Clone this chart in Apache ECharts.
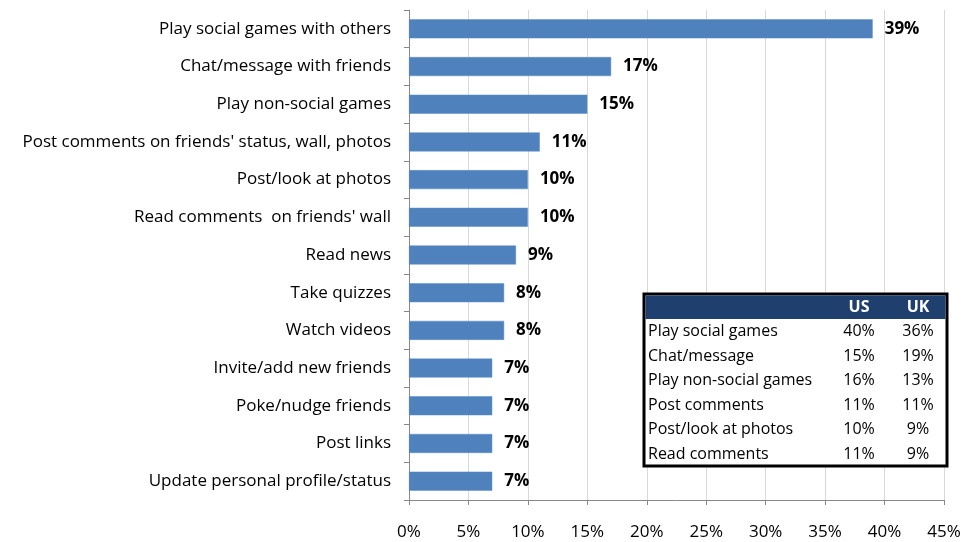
<!DOCTYPE html>
<html>
<head>
<meta charset="utf-8">
<script src="https://cdn.jsdelivr.net/npm/echarts@6/dist/echarts.min.js"></script>
<style>
  html, body { margin: 0; padding: 0; background: #fff; }
  #chart { width: 976px; height: 542px; }
</style>
</head>
<body>
<div id="chart"></div>
<script>
// Activities, top to bottom
const categories = [
  "Play social games with others",
  "Chat/message with friends",
  "Play non-social games",
  "Post comments on friends' status, wall, photos",
  "Post/look at photos",
  "Read comments  on friends' wall",
  "Read news",
  "Take quizzes",
  "Watch videos",
  "Invite/add new friends",
  "Poke/nudge friends",
  "Post links",
  "Update personal profile/status"
];
const values = [39, 17, 15, 11, 10, 10, 9, 8, 8, 7, 7, 7, 7];
const xTicks = [0, 5, 10, 15, 20, 25, 30, 35, 40, 45];

// US vs UK breakdown table
const tableHeader = ["", "US", "UK"];
const tableRows = [
  "Play social games",
  "Chat/message",
  "Play non-social games",
  "Post comments",
  "Post/look at photos",
  "Read comments"
];
const usValues = [40, 15, 16, 11, 10, 11];
const ukValues = [36, 19, 13, 11, 9, 9];

const FONT = "'Open Sans', 'Noto Sans', sans-serif";

// Table geometry
const tb = { x: 644, y: 294, w: 303, h: 172, head: 25, colUS: 859, colUK: 918 };
const rowH = (tb.h - tb.head) / tableRows.length;
const tableEls = [];
tableEls.push({ type: 'rect', shape: { x: tb.x, y: tb.y, width: tb.w, height: tb.h },
  style: { fill: '#fff', stroke: '#000', lineWidth: 3 }, z: 100 });
tableEls.push({ type: 'rect', shape: { x: tb.x + 1.5, y: tb.y + 1.5, width: tb.w - 3, height: tb.head - 1.5 },
  style: { fill: '#1F3F6F' }, z: 101 });
tableEls.push({ type: 'text', x: tb.colUS, y: tb.y + tb.head / 2 + 1,
  style: { text: tableHeader[1], fill: '#fff', font: 'bold 16px ' + FONT, align: 'center', verticalAlign: 'middle' }, z: 102 });
tableEls.push({ type: 'text', x: tb.colUK, y: tb.y + tb.head / 2 + 1,
  style: { text: tableHeader[2], fill: '#fff', font: 'bold 16px ' + FONT, align: 'center', verticalAlign: 'middle' }, z: 102 });
tableRows.forEach((name, i) => {
  const cy = tb.y + tb.head + rowH * (i + 0.5) + 0.5;
  tableEls.push({ type: 'text', x: tb.x + 4, y: cy,
    style: { text: name, fill: '#000', font: '16px ' + FONT, align: 'left', verticalAlign: 'middle' }, z: 102 });
  tableEls.push({ type: 'text', x: tb.colUS, y: cy,
    style: { text: usValues[i] + '%', fill: '#000', font: '16px ' + FONT, align: 'center', verticalAlign: 'middle' }, z: 102 });
  tableEls.push({ type: 'text', x: tb.colUK, y: cy,
    style: { text: ukValues[i] + '%', fill: '#000', font: '16px ' + FONT, align: 'center', verticalAlign: 'middle' }, z: 102 });
});

const chart = echarts.init(document.getElementById('chart'), null, { renderer: 'canvas' });
chart.setOption({
  animation: false,
  backgroundColor: '#fff',
  textStyle: { fontFamily: FONT },
  grid: { left: 409, right: 32, top: 10, bottom: 42, containLabel: false },
  xAxis: {
    type: 'value',
    min: xTicks[0],
    max: xTicks[xTicks.length - 1],
    interval: 5,
    axisLine: { show: true, lineStyle: { color: '#888', width: 1 } },
    axisTick: { show: true, length: 5, lineStyle: { color: '#888' } },
    axisLabel: { formatter: v => v + '%', color: '#000', fontSize: 17, margin: 24, fontFamily: FONT },
    splitLine: { show: true, lineStyle: { color: '#d9d9d9', width: 1 } }
  },
  yAxis: {
    type: 'category',
    data: categories,
    inverse: true,
    axisLine: { show: true, lineStyle: { color: '#888', width: 1 } },
    axisTick: { show: true, length: 5, lineStyle: { color: '#888' } },
    axisLabel: { color: '#000', fontSize: 17, margin: 18, fontFamily: FONT },
    splitLine: { show: false }
  },
  series: [{
    type: 'bar',
    data: values,
    barWidth: 19,
    itemStyle: { color: '#4F81BD', borderColor: '#5B8CC8', borderWidth: 0.5 },
    label: {
      show: true,
      position: 'right',
      distance: 12,
      formatter: p => p.value + '%',
      color: '#000',
      fontWeight: 'bold',
      fontSize: 17,
      fontFamily: FONT
    }
  }],
  graphic: tableEls
});
</script>
</body>
</html>
